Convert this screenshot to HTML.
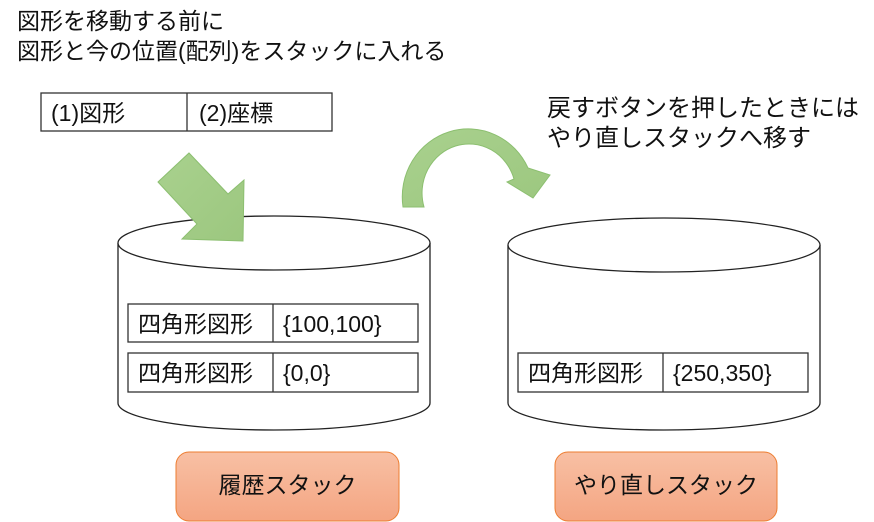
<!DOCTYPE html>
<html><head><meta charset="utf-8"><style>
body{margin:0;width:874px;height:522px;background:#fff;overflow:hidden;position:relative;font-family:"Liberation Sans","Noto Sans CJK JP",sans-serif;}
.t{position:absolute;font-size:23px;color:#111;white-space:nowrap;line-height:28px;}
</style></head><body>
<svg width="874" height="522" style="position:absolute;left:0;top:0">
<defs>
<linearGradient id="g" x1="0" y1="0" x2="1" y2="1"><stop offset="0" stop-color="#a9d18e"/><stop offset="1" stop-color="#9cc77f"/></linearGradient>
<linearGradient id="o" x1="0" y1="0" x2="0" y2="1"><stop offset="0" stop-color="#f8c0a4"/><stop offset="1" stop-color="#f4a582"/></linearGradient>
</defs>
<g fill="#fff" stroke="#222" stroke-width="1.3">
<path d="M118,243 V403 A156,27 0 0 0 430,403 V243"/>
<ellipse cx="274" cy="243" rx="156" ry="27"/>
<path d="M508,245 V403 A156,27 0 0 0 820,403 V245"/>
<ellipse cx="664" cy="245" rx="156" ry="27"/>
</g>
<g fill="#fff" stroke="#333" stroke-width="1.3">
<rect x="41" y="93" width="291" height="38"/><line x1="187" y1="93" x2="187" y2="131"/>
<rect x="128" y="304" width="290" height="38"/><line x1="273" y1="304" x2="273" y2="342"/>
<rect x="128" y="353" width="290" height="39"/><line x1="273" y1="353" x2="273" y2="392"/>
<rect x="518" y="353" width="290" height="39"/><line x1="663" y1="353" x2="663" y2="392"/>
</g>
<polygon points="158,182 189,153 228,194 244,180 243,241 182,239 197,224" fill="url(#g)" stroke="#8cbf70" stroke-width="1"/>
<path d="M403,207 A66,68 0 0 1 528,168 L550,175 L533,198 L507,182 L514,179 A45,47 0 0 0 424,207 Z" fill="url(#g)" stroke="#8cbf70" stroke-width="1"/>
<rect x="176" y="452" width="223" height="69" rx="13" fill="url(#o)" stroke="#ed7d31" stroke-width="1"/>
<rect x="555" y="452" width="222" height="69" rx="13" fill="url(#o)" stroke="#ed7d31" stroke-width="1"/>
</svg>
<div class="t" style="left:17px;top:7px">図形を移動する前に</div>
<div class="t" style="left:17px;top:37px">図形と今の位置(配列)をスタックに入れる</div>
<div class="t" style="left:547px;top:95px;font-size:24px">戻すボタンを押したときには</div>
<div class="t" style="left:547px;top:125px;font-size:24px">やり直しスタックへ移す</div>
<div class="t" style="left:51px;top:99px">(1)図形</div>
<div class="t" style="left:199px;top:99px">(2)座標</div>
<div class="t" style="left:138px;top:310px">四角形図形</div>
<div class="t" style="left:283px;top:310px">{100,100}</div>
<div class="t" style="left:138px;top:359px">四角形図形</div>
<div class="t" style="left:283px;top:359px">{0,0}</div>
<div class="t" style="left:528px;top:359px">四角形図形</div>
<div class="t" style="left:673px;top:359px">{250,350}</div>
<div class="t" style="left:176px;top:471px;width:223px;text-align:center">履歴スタック</div>
<div class="t" style="left:555px;top:471px;width:222px;text-align:center">やり直しスタック</div>
</body></html>
